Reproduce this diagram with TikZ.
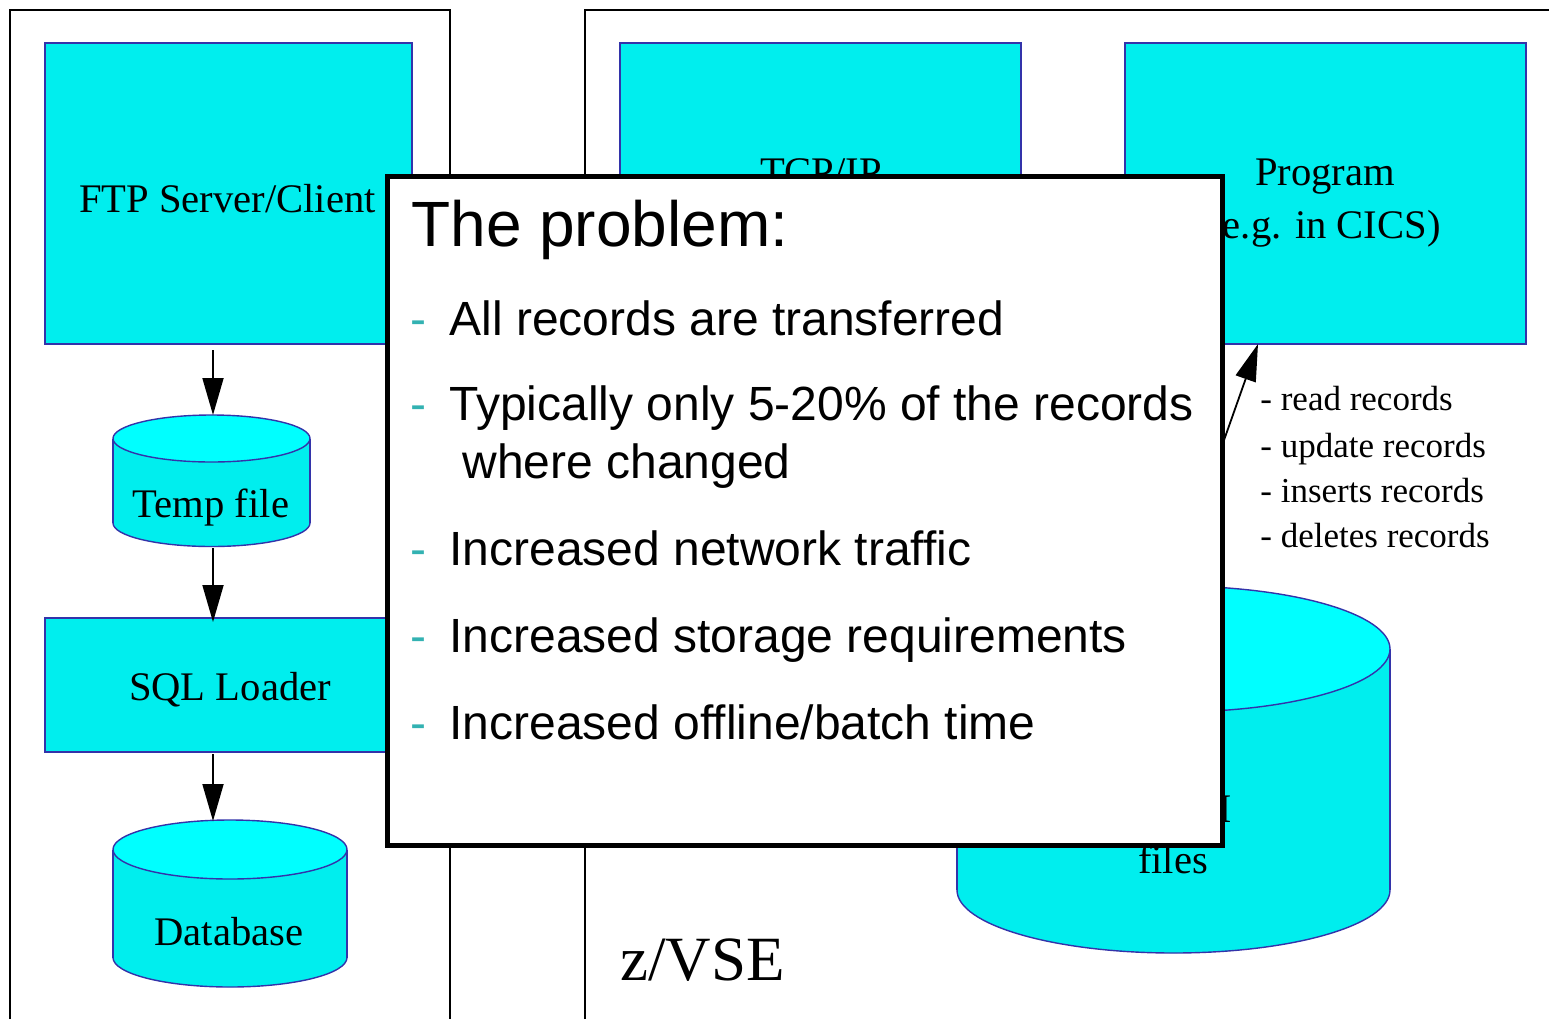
\documentclass[tikz,border=0pt]{standalone}
\usepackage{fontspec}
\setmainfont{Liberation Serif}
\newfontfamily\slidesans{Liberation Sans}
\usetikzlibrary{arrows.meta,fit}

\definecolor{cyanbody}{RGB}{0,238,238}
\definecolor{cyantop}{RGB}{0,255,255}
\definecolor{edgeblue}{RGB}{51,51,170}
\definecolor{bulletteal}{RGB}{51,178,178}

% drum (cylinder): #1 centre x, #2 x radius, #3 top ellipse centre y,
% #4 y radius, #5 bottom ellipse centre y
\newcommand\drumshape[5]{%
  \fill[cyanbody] (#1-#2,#3) rectangle (#1+#2,#5);
  \fill[cyanbody] (#1,#5) ellipse [x radius=#2, y radius=#4];
  \draw[drumline] (#1-#2,#3) -- (#1-#2,#5);
  \draw[drumline] (#1+#2,#3) -- (#1+#2,#5);
  \begin{scope}
    \clip (#1-#2-6,#5) rectangle (#1+#2+6,#5+#4+6);
    \draw[drumline] (#1,#5) ellipse [x radius=#2, y radius=#4];
  \end{scope}
  \filldraw[drumline,fill=cyantop] (#1,#3) ellipse [x radius=#2, y radius=#4];
}

\begin{document}
\begin{tikzpicture}[x=0.5pt,y=-0.5pt,
  frame/.style={draw=black,line width=0.8pt},
  cbox/.style={draw=edgeblue,fill=cyanbody,line width=0.7pt,inner sep=0pt,outer sep=0pt},
  drumline/.style={draw=edgeblue,line width=0.7pt},
  arr/.style={draw=black,line width=0.9pt,-{Triangle[length=18.5pt,width=10.5pt]}},
  lbl/.style={inner sep=0pt,anchor=base,font=\fontsize{20.3pt}{24pt}\selectfont},
  oplbl/.style={inner sep=0pt,anchor=base west,font=\fontsize{17.5pt}{20pt}\selectfont},
  probbox/.style={draw=black,fill=white,line width=2.5pt,inner sep=0pt,outer sep=0pt},
  probtitle/.style={inner sep=0pt,anchor=base west,font=\slidesans\fontsize{32pt}{38pt}\selectfont},
  probitem/.style={inner sep=0pt,anchor=base west,font=\slidesans\fontsize{24pt}{28pt}\selectfont},
  probdash/.style={inner sep=0pt,anchor=base west,text=bulletteal,font=\slidesans\fontsize{24pt}{28pt}\selectfont},
]
\useasboundingbox (0,0) rectangle (1549,1019);
\fill[white] (0,0) rectangle (1549,1019);

% system frames
\draw[frame] (10,1019) -- (10,10) -- (450,10) -- (450,1019);
\draw[frame] (585,1019) -- (585,10) -- (1549,10);

% left side: transfer chain
\node (ftp) [cbox, fit={(45,43) (412,344)}] {};
\node (ftplbl) [lbl] at (227.5,212) {FTP Server/Client};

\drumshape{211.5}{98.5}{438.5}{23.5}{523}
\coordinate (tempTop) at (213,415);
\coordinate (tempBot) at (213,548);
\node (templbl) [lbl] at (211,517) {Temp file};

\node (sql) [cbox, fit={(45,618) (412,752)}] {};
\node (sqllbl) [lbl] at (230,700) {SQL Loader};

\drumshape{230}{117}{849.5}{29.5}{957.5}
\coordinate (dbTop) at (213,821);
\node (dblbl) [lbl] at (229,945) {Database};

\draw[arr, shorten <=3pt] (ftp.south -| tempTop) -- (tempTop);
\draw[arr] (tempBot) -- ([yshift=-2pt]sql.north -| tempTop);
\draw[arr, shorten <=1pt] (sql.south -| tempTop) -- (dbTop);

% right side: z/VSE
\node (tcp) [cbox, fit={(620,43) (1021,344)}] {};
\node (tcplbl) [lbl] at (821,185) {TCP/IP};

\node (prog) [cbox, fit={(1125,43) (1526,344)}] {};
\node (proglbl) [lbl] at (1325,185) {Program};
\node (proglbl2) [lbl] at (1325,238) {(e.g. in CICS)};

\drumshape{1173.5}{216.5}{649}{63}{890}
\node (vsamlbl) [lbl] at (1173,822) {VSAM};
\node (vsamlbl2) [lbl] at (1173,873) {files};
\coordinate (vsamOut) at (1171,590);
\coordinate (progIn) at (1258,344);
\draw[arr] (vsamOut) -- (progIn);

\node (op1) [oplbl] at (1260,410) {- read records};
\node (op2) [oplbl] at (1260,457) {- update records};
\node (op3) [oplbl] at (1260,502) {- inserts records};
\node (op4) [oplbl] at (1260,547) {- deletes records};

\node (zvse) [inner sep=0pt,anchor=base west,font=\fontsize{31.5pt}{36pt}\selectfont] at (620,980) {z/VSE};

% overlay listing the problem
\node (problem) [probbox, fit={(387,176) (1222,845)}] {};
\node (ptitle) [probtitle] at (411,246) {The problem:};
\node (d1) [probdash] at (410,335) {-};
\node (p1) [probitem] at (449,335) {All records are transferred};
\node (d2) [probdash] at (410,420) {-};
\node (p2) [probitem] at (449,420) {Typically only 5-20\% of the records};
\node (p2b) [probitem] at (462,478) {where changed};
\node (d3) [probdash] at (410,565) {-};
\node (p3) [probitem] at (449,565) {Increased network traffic};
\node (d4) [probdash] at (410,652) {-};
\node (p4) [probitem] at (449,652) {Increased storage requirements};
\node (d5) [probdash] at (410,739) {-};
\node (p5) [probitem] at (449,739) {Increased offline/batch time};
\end{tikzpicture}
\end{document}
